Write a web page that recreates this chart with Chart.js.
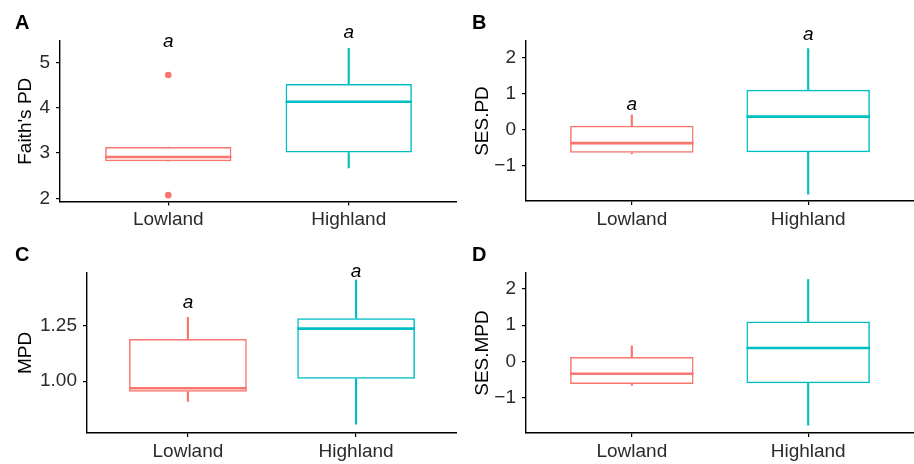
<!DOCTYPE html>
<html>
<head>
<meta charset="utf-8">
<script src="https://cdn.jsdelivr.net/npm/chart.js@4.4.1/dist/chart.umd.min.js"></script>
<style>
  body { margin: 0; background: #fff; }
  .panel { position: absolute; width: 457px; height: 232px; }
</style>
</head>
<body>
<div class="panel" style="left:0;top:0"><canvas id="chartA" width="457" height="232"></canvas></div>
<div class="panel" style="left:457px;top:0"><canvas id="chartB" width="457" height="232"></canvas></div>
<div class="panel" style="left:0;top:232px"><canvas id="chartC" width="457" height="232"></canvas></div>
<div class="panel" style="left:457px;top:232px"><canvas id="chartD" width="457" height="232"></canvas></div>
<script>
// groups on the x axis
const groups = ['Lowland', 'Highland']
const groupColors = ['#F8766D', '#00BFC4']

// A - Faith's PD (whisker low, q1, median, q3, whisker high)
const faithLo = [2.82, 2.67]
const faithQ1 = [2.82, 3.01]
const faithMed = [2.91, 4.13]
const faithQ3 = [3.13, 4.52]
const faithHi = [3.13, 5.31]
const faithOutliers = [{ x: 0, y: 4.72 }, { x: 0, y: 2.07 }]
const faithLetterY = [5.45, 5.65]
const faithTicks = [2, 3, 4, 5]

// B - SES.PD
const sesPdLo = [-0.67, -1.78]
const sesPdQ1 = [-0.64, -0.62]
const sesPdMed = [-0.37, 0.36]
const sesPdQ3 = [0.11, 1.10]
const sesPdHi = [0.41, 2.24]
const sesPdLetterY = [0.69, 2.63]
const sesPdTicks = [-1, 0, 1, 2]

// C - MPD
const mpdLo = [0.908, 0.805]
const mpdQ1 = [0.952, 1.011]
const mpdMed = [0.968, 1.238]
const mpdQ3 = [1.191, 1.285]
const mpdHi = [1.289, 1.458]
const mpdLetterY = [1.357, 1.494]
const mpdTicks = [1.00, 1.25]

// D - SES.MPD
const sesMpdLo = [-0.66, -1.76]
const sesMpdQ1 = [-0.62, -0.60]
const sesMpdMed = [-0.34, 0.37]
const sesMpdQ3 = [0.12, 1.10]
const sesMpdHi = [0.43, 2.26]
const sesMpdTicks = [-1, 0, 1, 2]

const fontFamily = '"Liberation Sans", Arial, sans-serif'

// median lines, significance letters and panel tag
const boxExtras = {
  id: 'boxExtras',
  afterDatasetsDraw(chart, args, opts) {
    const ctx = chart.ctx
    const yScale = chart.scales.y
    const xScale = chart.scales.x
    const boxMeta = chart.getDatasetMeta(2)
    ctx.save()
    boxMeta.data.forEach((bar, i) => {
      const y = yScale.getPixelForValue(opts.median[i])
      ctx.strokeStyle = groupColors[i]
      ctx.lineWidth = 2.6
      ctx.beginPath()
      ctx.moveTo(bar.x - bar.width / 2, y)
      ctx.lineTo(bar.x + bar.width / 2, y)
      ctx.stroke()
    })
    if (opts.letters) {
      ctx.fillStyle = '#000'
      ctx.font = 'italic 19px ' + fontFamily
      ctx.textAlign = 'center'
      ctx.textBaseline = 'middle'
      opts.letters.forEach((v, i) => {
        ctx.fillText('a', xScale.getPixelForValue(i), yScale.getPixelForValue(v))
      })
    }
    ctx.fillStyle = '#000'
    ctx.font = 'bold 20px ' + fontFamily
    ctx.textAlign = 'left'
    ctx.textBaseline = 'alphabetic'
    ctx.fillText(opts.tag, 15, 29)
    ctx.restore()
  }
}

function makePanel(id, p) {
  const datasets = [
    { // upper whisker
      data: groups.map((g, i) => ({ x: i, y: [p.q3[i], p.hi[i]] })),
      backgroundColor: groupColors, borderWidth: 0, barThickness: 1.5, grouped: false
    },
    { // lower whisker
      data: groups.map((g, i) => ({ x: i, y: [p.lo[i], p.q1[i]] })),
      backgroundColor: groupColors, borderWidth: 0, barThickness: 1.5, grouped: false
    },
    { // box
      data: groups.map((g, i) => ({ x: i, y: [p.q1[i], p.q3[i]] })),
      backgroundColor: 'rgba(255,255,255,0)', borderColor: groupColors, borderWidth: 1.5,
      borderSkipped: false, barPercentage: 0.7, categoryPercentage: 1, grouped: false
    }
  ]
  if (p.outliers) {
    datasets.push({
      type: 'scatter', data: p.outliers, backgroundColor: groupColors[0],
      borderWidth: 0, pointRadius: 3.3
    })
  }
  return new Chart(document.getElementById(id), {
    type: 'bar',
    data: { datasets: datasets },
    options: {
      responsive: false,
      animation: false,
      events: [],
      layout: { autoPadding: false, padding: { top: p.top, right: p.right, left: 0, bottom: 0 } },
      plugins: {
        legend: { display: false },
        tooltip: { enabled: false },
        boxExtras: { median: p.med, letters: p.letters, tag: p.tag }
      },
      scales: {
        x: {
          type: 'linear', min: -0.6, max: 1.6, offset: false,
          afterBuildTicks: s => { s.ticks = groups.map((g, i) => ({ value: i })) },
          afterFit: s => { s.height = 232 - p.bottom },
          ticks: {
            callback: v => groups[v], padding: 3, color: '#2b2b2b',
            font: { family: fontFamily, size: 19 }, maxRotation: 0
          },
          grid: { drawOnChartArea: false, offset: false, tickLength: 4, color: '#000', lineWidth: 1.2 },
          border: { color: '#000', width: 1.4 }
        },
        y: {
          min: p.min, max: p.max,
          afterBuildTicks: s => { s.ticks = p.ticks.map(v => ({ value: v })) },
          afterFit: s => { s.width = p.left },
          ticks: {
            callback: v => p.decimals ? v.toFixed(p.decimals) : String(v).replace('-', '\u2212'),
            padding: 6, color: '#2b2b2b', font: { family: fontFamily, size: 19 }
          },
          grid: { drawOnChartArea: false, tickLength: 4, color: '#000', lineWidth: 1.2 },
          border: { color: '#000', width: 1.4 },
          title: {
            display: true, text: p.title, color: '#000',
            font: { family: fontFamily, size: 19 }, padding: { top: 14, bottom: 0 }
          }
        }
      }
    },
    plugins: [boxExtras]
  })
}

makePanel('chartA', {
  tag: 'A', title: "Faith's PD", lo: faithLo, q1: faithQ1, med: faithMed, q3: faithQ3, hi: faithHi,
  outliers: faithOutliers, letters: faithLetterY, ticks: faithTicks,
  min: 1.93, max: 5.47, left: 60, top: 41, bottom: 201.5, right: 0
})
makePanel('chartB', {
  tag: 'B', title: 'SES.PD', lo: sesPdLo, q1: sesPdQ1, med: sesPdMed, q3: sesPdQ3, hi: sesPdHi,
  letters: sesPdLetterY, ticks: sesPdTicks,
  min: -1.97, max: 2.45, left: 69, top: 41, bottom: 201, right: 0
})
makePanel('chartC', {
  tag: 'C', title: 'MPD', lo: mpdLo, q1: mpdQ1, med: mpdMed, q3: mpdQ3, hi: mpdHi,
  letters: mpdLetterY, ticks: mpdTicks, decimals: 2,
  min: 0.765, max: 1.49, left: 87, top: 41, bottom: 201, right: 0
})
makePanel('chartD', {
  tag: 'D', title: 'SES.MPD', lo: sesMpdLo, q1: sesMpdQ1, med: sesMpdMed, q3: sesMpdQ3, hi: sesMpdHi,
  ticks: sesMpdTicks,
  min: -1.975, max: 2.44, left: 69, top: 41, bottom: 201, right: 0
})
</script>
</body>
</html>
